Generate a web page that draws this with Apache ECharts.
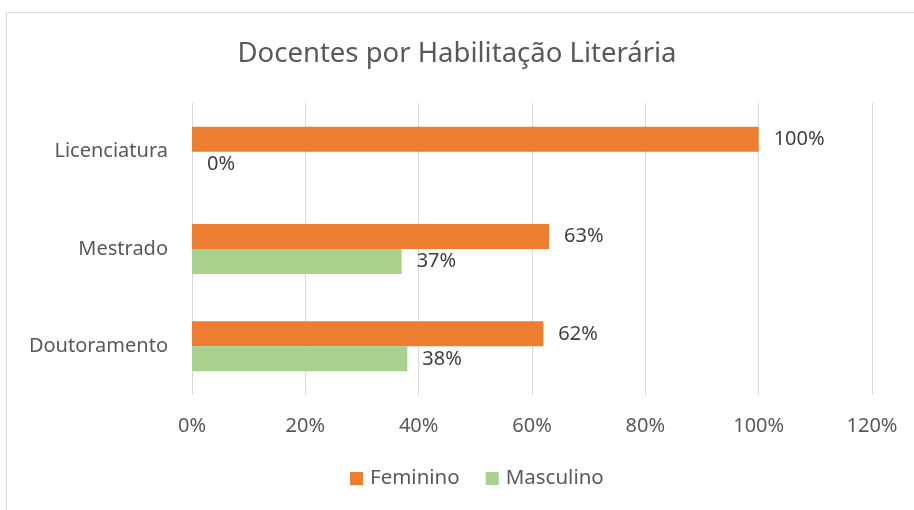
<!DOCTYPE html>
<html>
<head>
<meta charset="utf-8">
<script src="https://cdn.jsdelivr.net/npm/echarts@6/dist/echarts.min.js"></script>
<style>
  html, body { margin: 0; padding: 0; background: #fff; }
  #chart { width: 914px; height: 510px; }
</style>
</head>
<body>
<div id="chart"></div>
<script>
// categories bottom -> top
const categories = ['Doutoramento', 'Mestrado', 'Licenciatura'];
const feminino = [0.62, 0.63, 1.0];
const masculino = [0.38, 0.37, 0.0];
const xTicks = [0, 0.2, 0.4, 0.6, 0.8, 1.0, 1.2];

const font = '"Noto Sans", sans-serif';
const textColor = '#595959';

const pct = (v) => Math.round(v * 100) + '%';

const chart = echarts.init(document.getElementById('chart'));

chart.setOption({
    animation: false,
    backgroundColor: '#fff',
    graphic: [{
        type: 'rect',
        left: 4, top: 10,
        shape: { width: 940, height: 540 },
        style: { fill: 'none', stroke: '#d9d9d9', lineWidth: 1 },
        silent: true
    }],
    title: {
        text: 'Docentes por Habilitação Literária',
        left: 'center',
        top: 35,
        textStyle: { fontFamily: font, fontSize: 27.5, fontWeight: 'normal', color: textColor }
    },
    legend: {
        data: ['Feminino', 'Masculino'],
        bottom: 16,
        left: 345,
        itemWidth: 13,
        itemHeight: 13,
        itemGap: 26,
        icon: 'rect',
        textStyle: { fontFamily: font, fontSize: 20.5, color: textColor, padding: [0, 0, 0, 2] }
    },
    grid: { left: 192, right: 42, top: 103, bottom: 115 },
    xAxis: {
        type: 'value',
        min: xTicks[0],
        max: xTicks[xTicks.length - 1],
        interval: 0.2,
        axisLine: { show: false },
        axisTick: { show: false },
        splitLine: { lineStyle: { color: '#d9d9d9', width: 1 } },
        axisLabel: {
            formatter: pct,
            margin: 21,
            fontFamily: font, fontSize: 20, color: textColor
        }
    },
    yAxis: {
        type: 'category',
        data: categories,
        axisLine: { show: false },
        axisTick: { show: false },
        axisLabel: { margin: 24, fontFamily: font, fontSize: 20, color: textColor }
    },
    series: [
        {
            name: 'Feminino',
            type: 'bar',
            data: feminino,
            barWidth: 25,
            barGap: '0%',
            itemStyle: { color: '#ED7D31' },
            label: {
                show: true, position: 'right', distance: 15,
                formatter: (p) => pct(p.value),
                fontFamily: font, fontSize: 20, color: '#404040'
            }
        },
        {
            name: 'Masculino',
            type: 'bar',
            data: masculino,
            barWidth: 25,
            barGap: '0%',
            itemStyle: { color: '#A9D18E' },
            label: {
                show: true, position: 'right', distance: 15,
                formatter: (p) => pct(p.value),
                fontFamily: font, fontSize: 20, color: '#404040'
            }
        }
    ]
});
</script>
</body>
</html>
